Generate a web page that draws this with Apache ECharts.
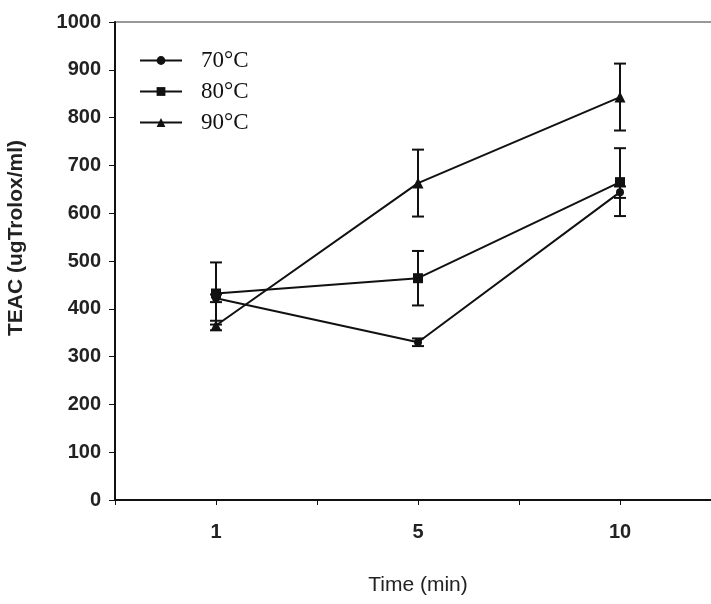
<!DOCTYPE html>
<html>
<head>
<meta charset="utf-8">
<script src="https://cdn.jsdelivr.net/npm/echarts@6/dist/echarts.min.js"></script>
<style>html,body{margin:0;padding:0;background:#fff;overflow:hidden}#c{width:721px;height:604px}</style>
</head>
<body>
<div id="c"></div>
<script>
const timeLabels = ['1', '5', '10'];
const seriesNames = ['70°C', '80°C', '90°C'];
const val70 = [422, 330, 644];
const err70 = [8, 8, 12];
const val80 = [432, 464, 665];
const err80 = [65, 57, 71];
const val90 = [365, 663, 843];
const err90 = [10, 70, 70];

const chart = echarts.init(document.getElementById('c'), null, {renderer: 'canvas'});

function errSeries(vals, errs) {
  return {
    type: 'custom',
    xAxisIndex: 0,
    yAxisIndex: 0,
    silent: true,
    z: 1,
    data: vals.map((v, i) => [i, v - errs[i], v + errs[i]]),
    renderItem: function (params, api) {
      const lo = api.coord([api.value(0), api.value(1)]);
      const hi = api.coord([api.value(0), api.value(2)]);
      const w = 6;
      const st = {stroke: '#111', lineWidth: 2};
      return {
        type: 'group',
        children: [
          {type: 'line', shape: {x1: lo[0], y1: lo[1], x2: hi[0], y2: hi[1]}, style: st},
          {type: 'line', shape: {x1: lo[0] - w, y1: lo[1], x2: lo[0] + w, y2: lo[1]}, style: st},
          {type: 'line', shape: {x1: hi[0] - w, y1: hi[1], x2: hi[0] + w, y2: hi[1]}, style: st}
        ]
      };
    }
  };
}

function lineSeries(name, vals, symbol, size) {
  return {
    name: name,
    type: 'line',
    data: vals,
    symbol: symbol,
    symbolSize: size,
    showSymbol: true,
    z: 3,
    lineStyle: {color: '#111', width: 2},
    itemStyle: {color: '#111'}
  };
}

const option = {
  animation: false,
  backgroundColor: '#fff',
  grid: {
    left: 115, right: 0, top: 22, bottom: 104,
    containLabel: false,
    outerBoundsMode: 'none',
    show: true, borderColor: '#333', borderWidth: 1
  },
  legend: {
    data: seriesNames,
    orient: 'vertical',
    left: 134,
    top: 44,
    itemWidth: 42,
    itemHeight: 11,
    itemGap: 8,
    textStyle: {fontFamily: 'Liberation Serif', fontSize: 23, color: '#111', padding: [0, 0, 0, 14]}
  },
  xAxis: [{
    type: 'category',
    data: timeLabels,
    boundaryGap: true,
    axisLine: {lineStyle: {color: '#111', width: 2}},
    axisTick: {show: true, length: 5, lineStyle: {color: '#111', width: 1}},
    axisLabel: {fontFamily: 'Liberation Sans', fontWeight: 'bold', fontSize: 20, color: '#222', margin: 22},
    splitLine: {show: false},
    name: 'Time (min)',
    nameLocation: 'middle',
    nameGap: 75,
    nameTextStyle: {fontFamily: 'Liberation Sans', fontSize: 21, color: '#222'}
  }, {
    type: 'category',
    data: timeLabels,
    position: 'bottom',
    boundaryGap: true,
    axisLine: {show: false},
    axisTick: {show: true, alignWithLabel: true, length: 5, lineStyle: {color: '#111', width: 1}},
    axisLabel: {show: false},
    splitLine: {show: false}
  }],
  yAxis: {
    type: 'value',
    min: 0,
    max: 1000,
    interval: 100,
    axisLine: {show: true, lineStyle: {color: '#111', width: 2}},
    axisTick: {show: true, length: 6, lineStyle: {color: '#111', width: 1}},
    axisLabel: {fontFamily: 'Liberation Sans', fontWeight: 'bold', fontSize: 20, color: '#222', margin: 14,
      formatter: function (v) { return String(v); }},
    splitLine: {show: false},
    name: 'TEAC (ugTrolox/ml)',
    nameLocation: 'middle',
    nameGap: 88,
    nameTextStyle: {fontFamily: 'Liberation Sans', fontWeight: 'bold', fontSize: 21, color: '#222', padding: [0, 0, 0, 46]}
  },
  series: [
    errSeries(val70, err70),
    errSeries(val80, err80),
    errSeries(val90, err90),
    lineSeries(seriesNames[0], val70, 'circle', 8),
    lineSeries(seriesNames[1], val80, 'rect', 10),
    lineSeries(seriesNames[2], val90, 'triangle', 11)
  ]
};
chart.setOption(option);
</script>
</body>
</html>
